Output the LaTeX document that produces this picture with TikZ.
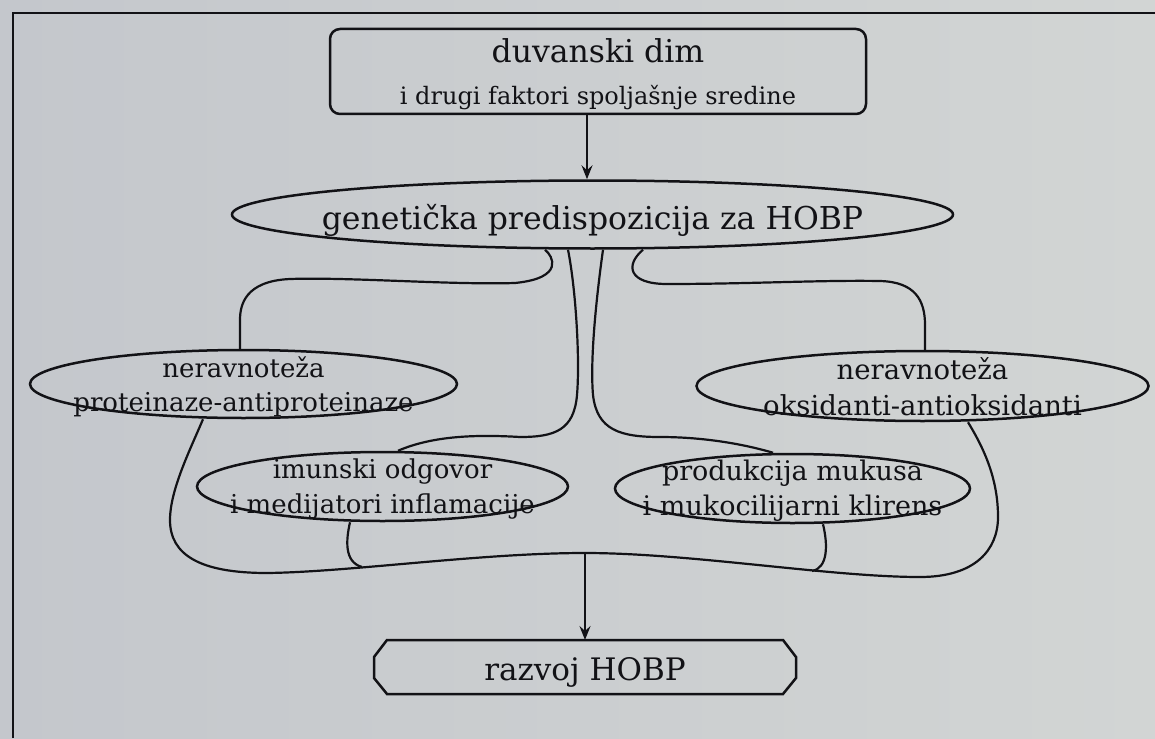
\documentclass[tikz,border=0pt]{standalone}
\usepackage{fontspec}
\setmainfont{DejaVu Serif}
\usetikzlibrary{shapes.geometric,arrows.meta,calc}
\definecolor{ink}{RGB}{18,18,22}
\definecolor{bgL}{RGB}{196,199,204}
\definecolor{bgR}{RGB}{210,213,212}
\newcommand\twol[2]{\begin{tabular}[b]{@{}c@{}}#1\\#2\end{tabular}}
\begin{document}
\begin{tikzpicture}[x=1pt,y=-1pt,
  shp/.style={draw=ink, line width=2.5pt, inner sep=-200pt, text=ink, text depth=0pt},
  ell/.style={shp, ellipse},
  link/.style={draw=ink, line width=2.2pt},
  arr/.style={link, -{Stealth[length=14pt,width=11pt,inset=5pt]}},
  frame/.style={draw=ink, line width=2.8pt}]
\useasboundingbox (0,0) rectangle (1155,738);
\fill[left color=bgL, right color=bgR] (0,0) rectangle (1155,738);
\draw[frame] (13,738) -- (13,13) -- (1155,13);

% nodes
\node[shp, rectangle, rounded corners=10pt, minimum width=536pt, minimum height=85pt,
      font=\fontsize{24}{42}\selectfont, text height=67pt] (top) at (598,71.5)
  {\twol{{\fontsize{31.5}{42}\selectfont duvanski dim}}{i drugi faktori spoljašnje sredine}};
\node[ell, minimum width=721pt, minimum height=68pt,
      font=\fontsize{31.5}{36}\selectfont, text height=29pt] (gen) at (592.5,214.5)
  {genetička predispozicija za HOBP};
\node[ell, minimum width=427pt, minimum height=68pt,
      font=\fontsize{26}{34}\selectfont, text height=54pt] (prot) at (243.5,384)
  {\twol{neravnoteža}{proteinaze-antiproteinaze}};
\node[ell, minimum width=452pt, minimum height=70pt,
      font=\fontsize{27.5}{36}\selectfont, text height=58pt] (oks) at (922.5,386)
  {\twol{neravnoteža}{oksidanti-antioksidanti}};
\node[ell, minimum width=371pt, minimum height=69pt,
      font=\fontsize{26}{35}\selectfont, text height=53pt] (imu) at (382.5,486.5)
  {\twol{imunski odgovor}{i medijatori inflamacije}};
\node[ell, minimum width=355pt, minimum height=69pt,
      font=\fontsize{27}{35}\selectfont, text height=53pt] (muk) at (792.5,488.5)
  {\twol{produkcija mukusa}{i mukocilijarni klirens}};
\node[shp, draw=none, rectangle, outer sep=0pt, minimum width=422pt, minimum height=54pt,
      font=\fontsize{31}{36}\selectfont, text height=26pt] (raz) at (585,667)
  {razvoj HOBP};
\draw[draw=ink, line width=2.5pt]
  ($(raz.north west)+(13,0)$) -- ($(raz.north east)+(-13,0)$) -- ($(raz.north east)+(0,17)$)
  -- ($(raz.south east)+(0,-16)$) -- ($(raz.south east)+(-13,0)$) -- ($(raz.south west)+(13,0)$)
  -- ($(raz.south west)+(0,-16)$) -- ($(raz.north west)+(0,17)$) -- cycle;

% junction points on the lower loop
\coordinate (bpeak) at (585,553);
\coordinate (bj1) at (362,567);
\coordinate (bj2) at (812,571);

% arrows
\draw[arr] ($(top.south)+(-11,0)$) -- ($(gen.north)+(-5.5,0)$);
\draw[arr] (bpeak) -- (raz.north);

% left branch
\draw[link] ($(gen.south)+(-47.5,0)$) .. controls (553,256) and (565,278) .. (515,283)
  .. controls (450,285) and (350,277) .. (290,279)
  .. controls (245,281) and (240,305) .. (240,320) -- ($(prot.north)+(-3.5,0)$);
% right branch
\draw[link] ($(gen.south)+(50.5,0)$) .. controls (625,265) and (628,284) .. (667,284)
  .. controls (750,284) and (820,280) .. (880,281)
  .. controls (915,282) and (925,300) .. (925,325) -- ($(oks.north)+(2.5,0)$);
% central stems
\draw[link] ($(gen.south)+(-24.5,0)$) .. controls (576,290) and (580,360) .. (577,395)
  .. controls (574,430) and (555,437) .. (520,437)
  .. controls (470,434) and (430,437) .. ($(imu.north)+(15.5,0)$);
\draw[link] ($(gen.south)+(10.5,0)$) .. controls (596,300) and (590,360) .. (593,395)
  .. controls (597,430) and (620,437) .. (660,437)
  .. controls (700,437) and (740,443) .. ($(muk.north)+(-19.5,0)$);
% lower loop
\draw[link] ($(prot.south)+(-40.5,0)$) .. controls (190,450) and (170,490) .. (170,520)
  .. controls (170,555) and (200,573) .. (267,573)
  .. controls (350,572) and (480,553) .. (bpeak)
  .. controls (690,553) and (830,577) .. (920,577)
  .. controls (975,577) and (998,550) .. (998,517)
  .. controls (998,480) and (985,450) .. ($(oks.south)+(45.5,0)$);
\draw[link] ($(imu.south)+(-32.5,0)$) .. controls (346,540) and (344,562) .. (bj1);
\draw[link] ($(muk.south)+(30.5,0)$) .. controls (828,545) and (828,568) .. (bj2);
\end{tikzpicture}
\end{document}
